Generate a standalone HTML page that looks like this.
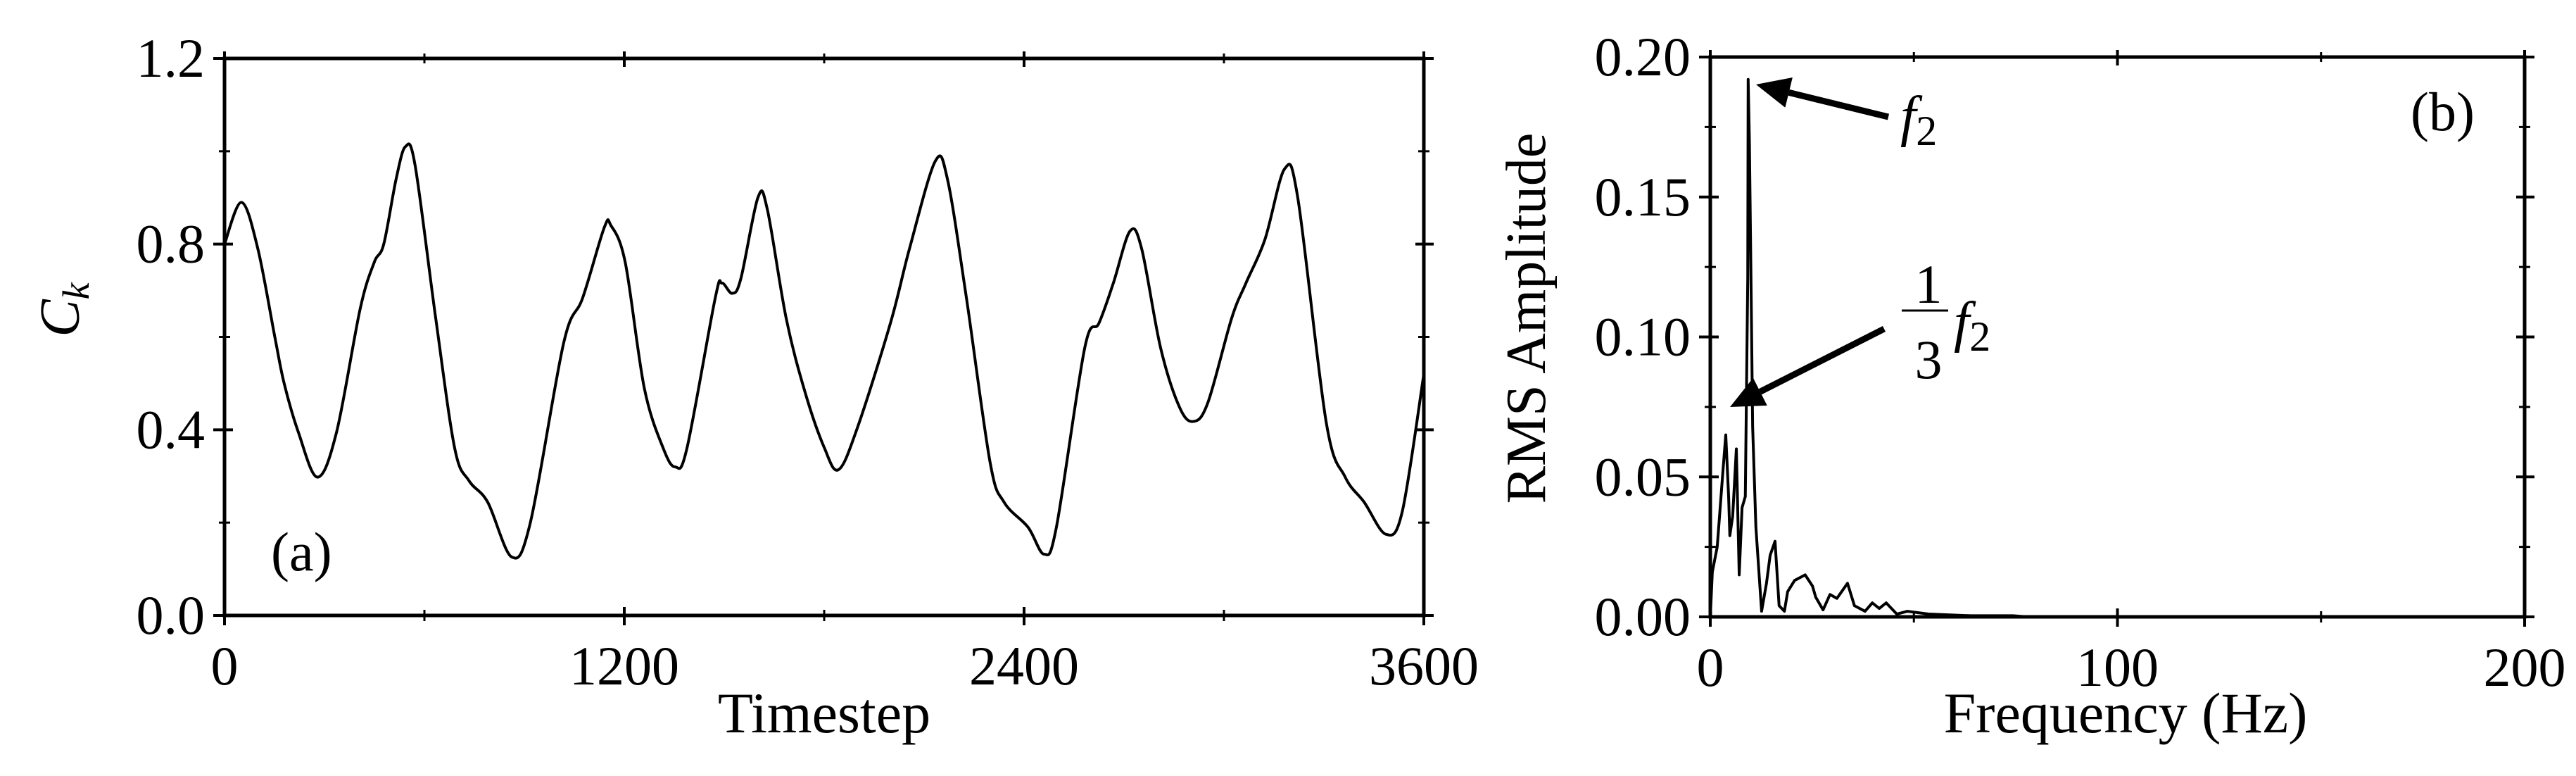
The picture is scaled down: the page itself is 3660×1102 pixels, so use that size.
<!DOCTYPE html>
<html><head><meta charset="utf-8"><style>
html,body{margin:0;padding:0;background:#fff}
svg{display:block}
text{font-family:"Liberation Serif",serif;fill:#000}
</style></head><body>
<svg id="fig" width="3660" height="1102" viewBox="0 0 3660 1102" xmlns="http://www.w3.org/2000/svg">
<g id="pa"></g>
<g id="pb"></g>
</svg>
<script>
const tsX=[0,51,100,151,179,222,279,336,407,449,478,515,543,572,634,691,734,790,862,918,1018,1075,1140,1160,1203,1260,1317,1353,1388,1473,1493,1524,1550,1601,1629,1686,1743,1800,1843,1900,1999,2056,2133,2170,2227,2298,2340,2412,2460,2497,2582,2625,2668,2718,2753,2810,2867,2909,2952,3023,3066,3123,3182,3222,3307,3364,3421,3486,3535,3600];
const tsY=[0.80,0.89,0.79,0.60,0.50,0.394,0.298,0.394,0.66,0.76,0.80,0.94,1.01,0.97,0.64,0.36,0.29,0.244,0.126,0.20,0.587,0.684,0.836,0.84,0.76,0.49,0.36,0.32,0.36,0.684,0.716,0.694,0.726,0.90,0.876,0.64,0.48,0.362,0.314,0.405,0.63,0.79,0.978,0.94,0.684,0.33,0.244,0.19,0.132,0.19,0.576,0.63,0.716,0.828,0.79,0.576,0.448,0.418,0.459,0.64,0.716,0.81,0.962,0.898,0.416,0.298,0.244,0.175,0.223,0.52];
const aXTicks=[0,1200,2400,3600];
const aYTicks=[0.0,0.4,0.8,1.2];
const aYLabels=["0.0","0.4","0.8","1.2"];
const frX=[0,0.5,1.7,3.1,3.8,4.5,4.8,5.5,6.4,7.1,7.8,8.6,9.2,9.3,9.6,10.0,10.4,11.2,12.6,13.8,14.7,15.9,16.9,18.2,19.0,20.7,23.3,25.1,25.9,27.7,29.4,31.1,33.7,35.4,38,39.8,41.5,43.2,45.8,48.4,53.6,64,74.3,78];
const frY=[0,0.016,0.025,0.052,0.065,0.043,0.029,0.036,0.06,0.015,0.039,0.043,0.121,0.192,0.17,0.12,0.068,0.032,0.002,0.012,0.022,0.027,0.004,0.002,0.009,0.013,0.015,0.011,0.007,0.0025,0.008,0.0066,0.012,0.004,0.002,0.005,0.003,0.005,0.001,0.002,0.001,0.0004,0.0004,0];
const bXTicks=[0,100,200];
const bYTicks=[0,0.05,0.10,0.15,0.20];
const bYLabels=["0.00","0.05","0.10","0.15","0.20"];

const NS="http://www.w3.org/2000/svg";
function mk(p,tag,at){const e=document.createElementNS(NS,tag);for(const k in at)e.setAttribute(k,at[k]);p.appendChild(e);return e;}
const FS=78;

const A={l:319,r:2023,t:83,b:874,x0:0,x1:3600,y0:0,y1:1.2};
const axA=v=>A.l+(v-A.x0)/(A.x1-A.x0)*(A.r-A.l);
const ayA=v=>A.b-(v-A.y0)/(A.y1-A.y0)*(A.b-A.t);
const B={l:2430,r:3587,t:81,b:876,x0:0,x1:200,y0:0,y1:0.2};
const axB=v=>B.l+(v-B.x0)/(B.x1-B.x0)*(B.r-B.l);
const ayB=v=>B.b-(v-B.y0)/(B.y1-B.y0)*(B.b-B.t);

function frame(g,P,ax,ay,xt,yt,ylab,xminor,yminor,name){
  let e=mk(g,'rect',{x:P.l,y:P.t,width:P.r-P.l,height:P.b-P.t,fill:'none',stroke:'#000','stroke-width':5});
  
  
  xt.forEach((v,i)=>{const x=ax(v);
    mk(g,'line',{x1:x,y1:P.b-12,x2:x,y2:P.b+14,stroke:'#000','stroke-width':4});
    mk(g,'line',{x1:x,y1:P.t-10,x2:x,y2:P.t+12,stroke:'#000','stroke-width':4});
    const t=mk(g,'text',{x:x,y:P.b+98,'font-size':FS,'text-anchor':'middle'});t.textContent=v;
    
    
  });
  xminor.forEach(v=>{const x=ax(v);
    mk(g,'line',{x1:x,y1:P.b-8,x2:x,y2:P.b+8,stroke:'#000','stroke-width':3});
    mk(g,'line',{x1:x,y1:P.t-7,x2:x,y2:P.t+7,stroke:'#000','stroke-width':3});});
  yt.forEach((v,i)=>{const y=ay(v);
    mk(g,'line',{x1:P.l-16,y1:y,x2:P.l+12,y2:y,stroke:'#000','stroke-width':4});
    mk(g,'line',{x1:P.r-12,y1:y,x2:P.r+14,y2:y,stroke:'#000','stroke-width':4});
    const t=mk(g,'text',{x:P.l-28,y:y+26,'font-size':FS,'text-anchor':'end'});t.textContent=ylab[i];
    
    
  });
  yminor.forEach(v=>{const y=ay(v);
    mk(g,'line',{x1:P.l-8,y1:y,x2:P.l+8,y2:y,stroke:'#000','stroke-width':3});
    mk(g,'line',{x1:P.r-8,y1:y,x2:P.r+8,y2:y,stroke:'#000','stroke-width':3});});
}
function smooth(xs,ys){let d=`M${xs[0]},${ys[0]}`;
  for(let i=0;i<xs.length-1;i++){const p0=i?i-1:i,p3=i+2<xs.length?i+2:i+1;
    const c1x=xs[i]+(xs[i+1]-xs[p0])/6,c1y=ys[i]+(ys[i+1]-ys[p0])/6;
    const c2x=xs[i+1]-(xs[p3]-xs[i])/6,c2y=ys[i+1]-(ys[p3]-ys[i])/6;
    d+=` C${c1x},${c1y} ${c2x},${c2y} ${xs[i+1]},${ys[i+1]}`;}
  return d;}

const ga=document.getElementById('pa');
frame(ga,A,axA,ayA,aXTicks,aYTicks,aYLabels,[600,1800,3000],[0.2,0.6,1.0],'panel-a');
let pth=mk(ga,'path',{d:smooth(tsX.map(axA),tsY.map(ayA)),fill:'none',stroke:'#000','stroke-width':4});


let t;
t=mk(ga,'text',{x:1171,y:1040,'font-size':82,'text-anchor':'middle'});t.textContent='Timestep';


t=mk(ga,'text',{x:0,y:0,'font-size':80,'font-style':'italic','text-anchor':'middle',transform:'translate(112,440) rotate(-90)'});
t.innerHTML='C<tspan font-size="54" dy="14">k</tspan>';


t=mk(ga,'text',{x:385,y:810,'font-size':78});t.textContent='(a)';



const gb=document.getElementById('pb');
frame(gb,B,axB,ayB,bXTicks,bYTicks,bYLabels,[50,150],[0.025,0.075,0.125,0.175],'panel-b');
pth=mk(gb,'path',{d:'M'+frX.map((v,i)=>axB(v)+','+ayB(frY[i])).join(' L'),fill:'none',stroke:'#000','stroke-width':4,'stroke-linejoin':'round'});


t=mk(gb,'text',{x:3020,y:1040,'font-size':82,'text-anchor':'middle'});t.textContent='Frequency (Hz)';


t=mk(gb,'text',{x:0,y:0,'font-size':80,'text-anchor':'middle',transform:'translate(2195,452) rotate(-90)'});t.textContent='RMS Amplitude';


t=mk(gb,'text',{x:3425,y:185,'font-size':78});t.textContent='(b)';


function arrow(x1,y1,x2,y2,name){const a=Math.atan2(y2-y1,x2-x1),L=48,W=22;
  const bx=x2-L*Math.cos(a),by=y2-L*Math.sin(a);
  let e=mk(gb,'line',{x1:x1,y1:y1,x2:bx,y2:by,stroke:'#000','stroke-width':9});
  
  
  e=mk(gb,'polygon',{points:`${x2},${y2} ${bx+W*Math.sin(a)},${by-W*Math.cos(a)} ${bx-W*Math.sin(a)},${by+W*Math.cos(a)}`,fill:'#000'});
  
  }
arrow(2683,166,2495,120,'f2-arrow');
arrow(2677,467,2458,578,'third-f2-arrow');
t=mk(gb,'text',{x:2700,y:192,'font-size':80,'font-style':'italic'});t.innerHTML='f<tspan font-style="normal" font-size="60" dy="14">2</tspan>';


t=mk(gb,'text',{x:2740,y:430,'font-size':78,'text-anchor':'middle'});t.textContent='1';


mk(gb,'line',{x1:2702,y1:441,x2:2768,y2:441,stroke:'#000','stroke-width':3});
t=mk(gb,'text',{x:2740,y:537,'font-size':78,'text-anchor':'middle'});t.textContent='3';


t=mk(gb,'text',{x:2776,y:484,'font-size':80,'font-style':'italic'});t.innerHTML='f<tspan font-style="normal" font-size="60" dy="14">2</tspan>';


</script>
</body></html>
